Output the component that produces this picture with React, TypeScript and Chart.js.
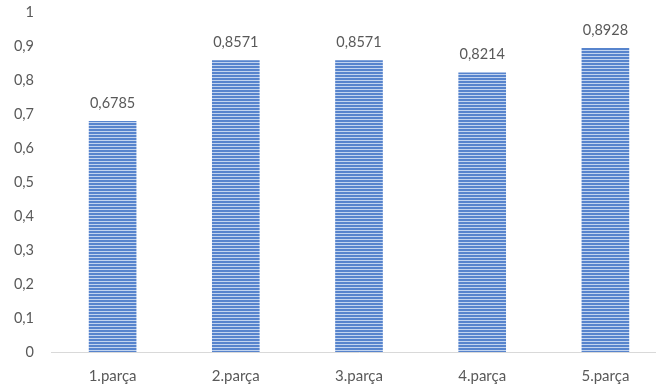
import React, { useEffect, useRef } from "react";
import { Chart, registerables } from "chart.js";

Chart.register(...registerables);

const categories = ["1.parça", "2.parça", "3.parça", "4.parça", "5.parça"];
const values = [0.6785, 0.8571, 0.8571, 0.8214, 0.8928];
const yTicks = [0, 0.1, 0.2, 0.3, 0.4, 0.5, 0.6, 0.7, 0.8, 0.9, 1];

const FONT = "Lato, 'Open Sans', sans-serif";
const GREY = "#595959";

function fmt(v: number) {
  return String(v).replace(".", ",");
}

function makePattern(): CanvasPattern | string {
  const c = document.createElement("canvas");
  c.width = 4;
  c.height = 3;
  const g = c.getContext("2d");
  if (!g) return "#4472c4";
  g.fillStyle = "#5784cd";
  g.fillRect(0, 0, 4, 2);
  g.fillStyle = "#c2d4ef";
  g.fillRect(0, 2, 4, 1);
  const ctx = document.createElement("canvas").getContext("2d")!;
  return ctx.createPattern(c, "repeat") || "#4472c4";
}

const labelPlugin = {
  id: "valueLabels",
  afterDatasetsDraw(chart: any) {
    const ctx = chart.ctx;
    const meta = chart.getDatasetMeta(0);
    ctx.save();
    ctx.font = `14.5px ${FONT}`;
    ctx.fillStyle = GREY;
    ctx.textAlign = "center";
    ctx.textBaseline = "middle";
    meta.data.forEach((el: any, i: number) => {
      ctx.fillText(fmt(values[i]), el.x, el.y - 18);
    });
    ctx.restore();
  },
};

export default function App() {
  const ref = useRef<HTMLCanvasElement>(null);
  useEffect(() => {
    if (!ref.current) return;
    const pattern = makePattern();
    const chart = new Chart(ref.current, {
      type: "bar",
      data: {
        labels: categories,
        datasets: [
          {
            data: values,
            backgroundColor: pattern as any,
            borderWidth: 0,
            barThickness: 47,
          },
        ],
      },
      options: {
        animation: false,
        responsive: false,
        layout: { padding: { top: 12, right: 3, left: 0, bottom: 0 } },
        plugins: {
          legend: { display: false },
          tooltip: { enabled: false },
        },
        scales: {
          x: {
            grid: { display: false, drawTicks: false },
            border: { display: true, color: "#d9d9d9", width: 1 },
            ticks: {
              color: GREY,
              font: { family: FONT, size: 15 },
              padding: 15,
              maxRotation: 0,
            },
            afterFit: (s: any) => {
              s.height = 40;
              s.paddingLeft = 0;
              s.paddingRight = 0;
            },
          },
          y: {
            min: 0,
            max: 1,
            grid: { display: false, drawTicks: false },
            border: { display: false },
            afterBuildTicks: (s: any) => {
              s.ticks = yTicks.map((v) => ({ value: v }));
            },
            ticks: {
              color: GREY,
              font: { family: FONT, size: 14.5 },
              padding: 17,
              callback: (v: any) => fmt(Math.round(Number(v) * 10) / 10),
            },
            afterFit: (s: any) => {
              s.width = 51;
              s.paddingTop = 0;
              s.paddingBottom = 0;
            },
          },
        },
      },
      plugins: [labelPlugin],
    });
    return () => chart.destroy();
  }, []);
  return (
    <div
      style={{
        position: "fixed",
        left: 0,
        top: 0,
        width: 656,
        height: 392,
        overflow: "hidden",
        background: "#fff",
      }}
    >
      <canvas ref={ref} width={670} height={392} style={{ width: 670, height: 392 }} />
    </div>
  );
}
